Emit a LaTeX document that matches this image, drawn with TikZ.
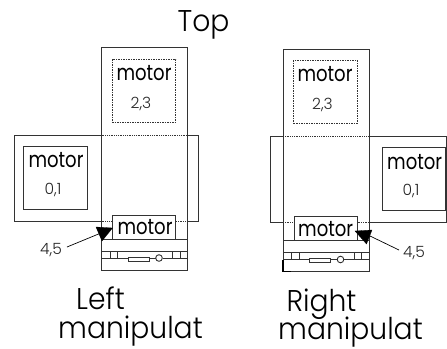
\documentclass[tikz,border=0pt]{standalone}
\usepackage{fontspec}
\newfontfamily\bigfont{Poppins Light}[FakeStretch=0.94]
\newfontfamily\motfont{Poppins}[FakeStretch=0.82]
\newfontfamily\numfont{Poppins Light}
\definecolor{ink}{gray}{0.2}
\tikzset{
  frame/.style={draw=ink,line width=0.9pt},
  dotline/.style={draw=ink,line width=0.8pt,densely dotted},
  motorsq/.style={draw=ink,line width=0.8pt,minimum width=63.5pt,minimum height=63pt,inner sep=0pt},
  big/.style={font=\bigfont\fontsize{30}{30}\selectfont,inner sep=0pt,anchor=base,text=black},
  mot/.style={font=\motfont\fontsize{22}{22}\selectfont,inner sep=0pt,anchor=base,text=black},
  small/.style={font=\numfont\fontsize{15.5}{15.5}\selectfont,inner sep=0pt,anchor=base,text=black!85},
  leader/.style={draw=black,line width=0.7pt},
  tip/.style={fill=black,draw=black,line width=0.3pt},
}
\newcommand{\gripper}[2]{%
  \begin{scope}[shift={(#1,#2)}]
    \draw[frame] (0,0) -- (86,0);
    \draw[frame] (0,0) rectangle (8.5,7) (8.5,0) rectangle (16,7);
    \draw[frame] (71,0) rectangle (78.5,7) (78.5,0) rectangle (86,7);
    \draw[frame] (16,7) -- (26.5,7) (47.5,7) -- (54,7) (61,7) -- (71,7);
    \draw[frame] (26.5,6) rectangle (47.5,10);
    \draw[frame] (57.5,7) circle (3.3);
  \end{scope}}
\begin{document}
\begin{tikzpicture}[x=1pt,y=-1pt]
\useasboundingbox (0,0) rectangle (447,348);
\node[big] (top) at (203.5,31) {Top};
% left manipulator
\coordinate (la) at (101.5,47.5); \coordinate (lb) at (187.5,47.5);
\coordinate (lc) at (187.5,270);  \coordinate (ld) at (101.5,270);
\draw[frame] (la) -- (lb) -- (lc) -- (ld) -- cycle;
\coordinate (le) at (101.5,135); \coordinate (lf) at (187.5,135);
\coordinate (lg) at (14,135); \coordinate (lh) at (198.5,135);
\coordinate (li) at (14,221); \coordinate (lj) at (198.5,221);
\coordinate (lk) at (101.5,221); \coordinate (ll) at (187.5,221);
\draw[frame] (le) -- (lg) -- (li) -- (lk);
\draw[frame] (lf) -- (lh) -- (lj) -- (ll);
\draw[dotline] (le) -- (lf);
\node[motorsq,dash pattern=on 1.5pt off 1pt] (l23) at (143.8,90.5) {};
\node[motorsq] (l01) at (55.3,177.5) {};
\node[mot] (l23t) at (144,80) {motor};
\node[small] (l23n) at (141,108) {2,3};
\node[mot] (l01t) at (56,167.7) {motor};
\node[small] (l01n) at (53,194) {0,1};
\node[draw=ink,line width=0.9pt,minimum width=63pt,minimum height=24pt,inner sep=0pt,fill=white] (l45) at (144.2,227) {};
\node[mot] (l45t) at (145,234) {motor};
\draw[dotline] (lk) -- (l45.west |- lk);
\draw[dotline] (ll) -- (l45.east |- ll);
\coordinate (lm) at (101.5,239); \coordinate (ln) at (187.5,239);
\draw[frame] (lm) -- (ln);
\gripper{101.5}{251}
\node[small] (l45n) at (51,254) {4,5};
\coordinate (lp) at (67,247); \coordinate (lq) at (101,233);
\draw[leader] (lp) -- (lq);
\filldraw[tip] (96,227) -- (112.5,228) -- (102,241) -- cycle;
\node[big] (lleft) at (100.5,309) {Left};
\node[big] (lman) at (130.5,338) {manipulat};
% right manipulator
\coordinate (ra) at (283,49.5); \coordinate (rb) at (369,49.5);
\coordinate (rc) at (369,271.5);  \coordinate (rd) at (283,271.5);
\draw[frame] (ra) -- (rb) -- (rc) -- (rd) -- cycle;
\coordinate (re) at (283,136.5); \coordinate (rf) at (369,136.5);
\coordinate (rg) at (270.5,136.5); \coordinate (rh) at (446.5,136.5);
\coordinate (ri) at (270.5,222.5); \coordinate (rj) at (446.5,222.5);
\coordinate (rk) at (283,222.5); \coordinate (rl) at (369,222.5);
\draw[frame] (re) -- (rg) -- (ri) -- (rk);
\draw[frame] (rf) -- (rh) -- (rj) -- (rl);
\draw[dotline] (re) -- (rf);
\node[motorsq,dash pattern=on 1.5pt off 1pt] (r23) at (325.5,91.5) {};
\node[motorsq,fill=white] (r01) at (413.7,178.5) {};
\node[mot] (r23t) at (325,81.7) {motor};
\node[small] (r23n) at (322.5,109) {2,3};
\node[mot] (r01t) at (414.7,169.3) {motor};
\node[small] (r01n) at (411,195.7) {0,1};
\node[draw=ink,line width=0.9pt,minimum width=63.5pt,minimum height=24pt,inner sep=0pt,fill=white] (r45) at (325.8,228.5) {};
\node[mot] (r45t) at (325.7,236) {motor};
\draw[dotline] (rk) -- (r45.west |- rk);
\draw[dotline] (rl) -- (r45.east |- rl);
\coordinate (rm) at (283,240.5); \coordinate (rn) at (369,240.5);
\draw[frame] (rm) -- (rn);
\gripper{283}{252.5}
\node[small] (r45n) at (414,257.5) {4,5};
\coordinate (rp) at (399,250); \coordinate (rq) at (370,236);
\draw[leader] (rp) -- (rq);
\filldraw[tip] (355,231) -- (372,230) -- (366.5,244) -- cycle;
\draw[draw=black,line width=1.3pt] (283,259.5) -- (283,271.5) -- (291,271.5);
\node[big] (rright) at (321.5,311) {Right};
\node[big] (rman) at (350.5,339) {manipulat};
\end{tikzpicture}
\end{document}
